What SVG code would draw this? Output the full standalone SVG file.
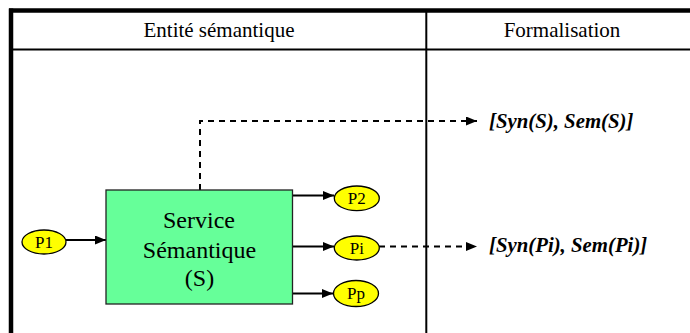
<svg xmlns="http://www.w3.org/2000/svg" width="690" height="333" viewBox="0 0 690 333">
<defs>
<style>
text{font-family:'Liberation Serif','Times New Roman',Tinos,'DejaVu Serif',serif;fill:#000}
.hdr{font-size:21px;text-anchor:middle}
.box{font-size:24px;text-anchor:middle}
.port{fill:#ffff00;stroke:#000;stroke-width:1.3}
.plbl{font-size:17px;text-anchor:middle}
.formal{font-size:20.8px;font-weight:bold;font-style:italic}
.solid{fill:none;stroke:#000;stroke-width:2}
.dash{fill:none;stroke:#000;stroke-width:2;stroke-dasharray:6,5}
</style>
<marker id="ah" markerWidth="12" markerHeight="10" refX="11" refY="4.5" orient="auto" markerUnits="userSpaceOnUse">
<path d="M0,0 L11,4.5 L0,9 Z" fill="#000"/>
</marker>
</defs>
<rect width="690" height="333" fill="#fff"/>
<g id="table">
<line x1="9" y1="10.5" x2="690" y2="10.5" stroke="#000" stroke-width="4.5"/>
<line x1="11" y1="8.5" x2="11" y2="333" stroke="#000" stroke-width="4.5"/>
<line x1="11" y1="49.5" x2="690" y2="49.5" stroke="#000" stroke-width="2.2"/>
<line x1="426.3" y1="10" x2="426.3" y2="333" stroke="#000" stroke-width="2"/>
<text class="hdr" x="219" y="37">Entité sémantique</text>
<text class="hdr" x="562" y="37">Formalisation</text>
</g>
<g id="connectors">
<line class="solid" x1="66" y1="240" x2="106" y2="240" marker-end="url(#ah)"/>
<line class="solid" x1="293" y1="195.5" x2="334" y2="195.5" marker-end="url(#ah)"/>
<line class="solid" x1="293" y1="246.5" x2="334" y2="246.5" marker-end="url(#ah)"/>
<line class="solid" x1="290" y1="293.5" x2="333" y2="293.5" marker-end="url(#ah)"/>
<path class="dash" d="M200,190 V121 H477" marker-end="url(#ah)"/>
<line class="dash" x1="379" y1="246.5" x2="477" y2="246.5" marker-end="url(#ah)"/>
</g>
<g id="service">
<rect x="106" y="190" width="186.5" height="114" fill="#66ff99" stroke="#222" stroke-width="1.3"/>
<text class="box" x="199" y="228">Service</text>
<text class="box" x="199.5" y="258">Sémantique</text>
<text class="box" x="199.5" y="286">(S)</text>
</g>
<g id="p1">
<ellipse class="port" cx="44" cy="242" rx="22" ry="12"/>
<text class="plbl" x="44" y="248">P1</text>
</g>
<g id="p2">
<ellipse class="port" cx="356.8" cy="198.3" rx="22.5" ry="12.3"/>
<text class="plbl" x="356.8" y="204.3">P2</text>
</g>
<g id="pi">
<ellipse class="port" cx="356.8" cy="248" rx="22.5" ry="12"/>
<text class="plbl" x="356.8" y="254">Pi</text>
</g>
<g id="pp">
<ellipse class="port" cx="356" cy="293.5" rx="22.5" ry="13"/>
<text class="plbl" x="356" y="299">Pp</text>
</g>
<g id="formal-s">
<text class="formal" x="489" y="128.3">[Syn(S), Sem(S)]</text>
</g>
<g id="formal-pi">
<text class="formal" x="489" y="252">[Syn(Pi), Sem(Pi)]</text>
</g>
</svg>
